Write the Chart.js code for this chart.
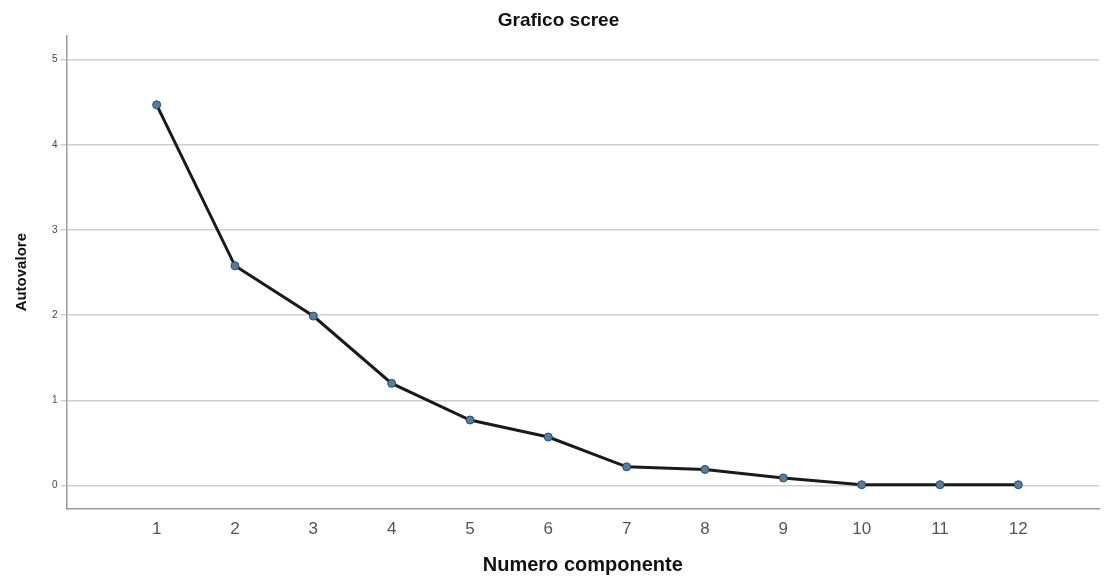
<!DOCTYPE html>
<html>
<head>
<meta charset="utf-8">
<script src="https://cdn.jsdelivr.net/npm/chart.js@4"></script>
<style>
  html, body { margin: 0; padding: 0; background: #fff; }
  #wrap { width: 1104px; height: 578px; position: relative; }
</style>
</head>
<body>
<div id="wrap"><canvas id="myChart"></canvas></div>
<script>
var components = [1, 2, 3, 4, 5, 6, 7, 8, 9, 10, 11, 12];
var eigenvalues = [4.47, 2.58, 1.99, 1.20, 0.77, 0.57, 0.22, 0.19, 0.09, 0.01, 0.01, 0.01];
var yTicks = [0, 1, 2, 3, 4, 5];

var points = components.map(function (c, i) { return {x: c, y: eigenvalues[i]}; });

var ctx = document.getElementById('myChart').getContext('2d');
var myChart = new Chart(ctx, {
    type: 'line',
    data: {
        datasets: [{
            data: points,
            borderColor: '#1a1a1a',
            borderWidth: 3,
            pointRadius: 4,
            pointBackgroundColor: '#4f7fa8',
            pointBorderColor: '#2d4a60',
            pointBorderWidth: 1,
            tension: 0,
            fill: false
        }]
    },
    options: {
        responsive: true,
        maintainAspectRatio: false,
        animation: false,
        layout: { padding: { top: 7, right: 0, left: 13, bottom: 0 } },
        plugins: {
            legend: { display: false },
            tooltip: { enabled: false },
            title: {
                display: true,
                text: 'Grafico scree',
                color: '#111',
                font: { family: 'Liberation Sans', size: 19, weight: 'bold' },
                padding: { top: 2, bottom: 4 }
            }
        },
        scales: {
            x: {
                type: 'linear',
                min: -0.15,
                max: 13.03,
                afterBuildTicks: function (axis) {
                    axis.ticks = components.map(function (v) { return {value: v}; });
                },
                grid: { display: false },
                border: { display: true, color: '#999', width: 1.5 },
                ticks: {
                    color: '#555',
                    font: { family: 'Liberation Sans', size: 17 },
                    padding: 3
                },
                title: {
                    display: true,
                    text: 'Numero componente',
                    color: '#111',
                    font: { family: 'Liberation Sans', size: 20, weight: 'bold' },
                    padding: { top: 10, bottom: 1 }
                }
            },
            y: {
                type: 'linear',
                min: -0.27,
                max: 5.28,
                afterBuildTicks: function (axis) {
                    axis.ticks = yTicks.map(function (v) { return {value: v}; });
                },
                grid: { color: '#cfcfcf', lineWidth: 1.5, tickLength: 6 },
                border: { display: true, color: '#999', width: 1.5 },
                ticks: {
                    color: '#444',
                    font: { family: 'Liberation Sans', size: 10 },
                    padding: 3
                },
                title: {
                    display: true,
                    text: 'Autovalore',
                    color: '#111',
                    font: { family: 'Liberation Sans', size: 15, weight: 'bold' },
                    padding: { top: 0, bottom: 18 }
                }
            }
        }
    }
});
</script>
</body>
</html>
